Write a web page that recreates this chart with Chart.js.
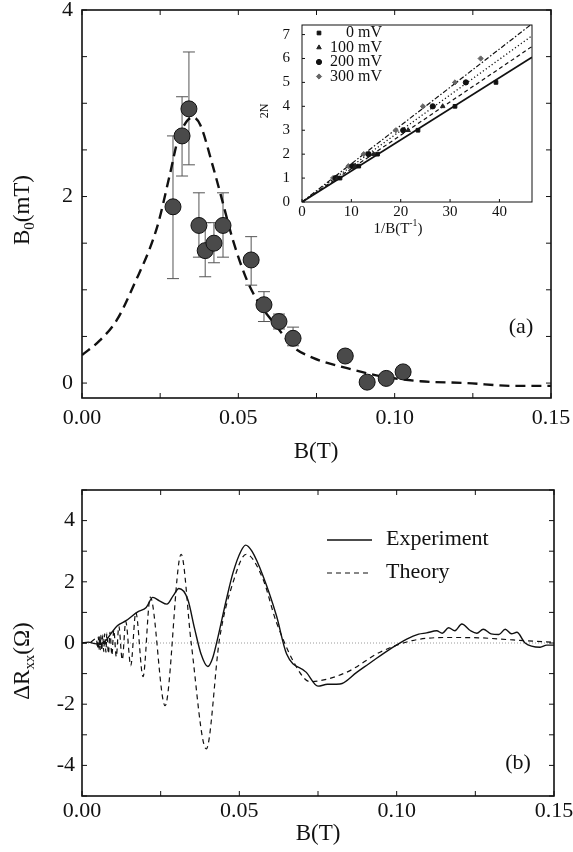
<!DOCTYPE html>
<html>
<head>
<meta charset="utf-8">
<script src="https://cdn.jsdelivr.net/npm/chart.js@4.4.0/dist/chart.umd.min.js"></script>
<style>
  body { margin: 0; background: #fff; width: 573px; height: 852px; position: relative; overflow: hidden; }
  canvas { position: absolute; }
</style>
</head>
<body>
<canvas id="chartA" width="573" height="470" style="left:0;top:0"></canvas>
<canvas id="inset" width="300" height="230" style="left:250px;top:15px"></canvas>
<canvas id="chartB" width="573" height="382" style="left:0;top:470px"></canvas>
<script>
// ---- panel (a): B0 vs B ----
const bA    = [0.0291, 0.0320, 0.0342, 0.0374, 0.0394, 0.0422, 0.0451, 0.0541, 0.0582, 0.0630, 0.0675, 0.0842, 0.0912, 0.0973, 0.1027];
const b0    = [1.89, 2.65, 2.94, 1.69, 1.42, 1.50, 1.69, 1.32, 0.84, 0.66, 0.48, 0.29, 0.01, 0.05, 0.12];
const b0Hi  = [2.65, 3.07, 3.55, 2.04, 1.72, 1.72, 2.04, 1.57, 0.98, 0.74, 0.60, 0.35, 0.01, 0.05, 0.12];
const b0Lo  = [1.12, 2.22, 2.34, 1.35, 1.14, 1.29, 1.35, 1.05, 0.66, 0.58, 0.40, 0.23, 0.01, 0.05, 0.12];
const thAx  = [0, 0.0058, 0.0112, 0.0163, 0.0240, 0.0282, 0.0307, 0.0355, 0.0378, 0.0419, 0.0442, 0.0483, 0.0528, 0.0560, 0.0624, 0.0675, 0.0739, 0.0848, 0.0954, 0.1082, 0.1232, 0.1379, 0.1500];
const thAy  = [0.30, 0.46, 0.68, 1.03, 1.67, 2.25, 2.61, 2.85, 2.77, 2.32, 2.04, 1.53, 1.10, 0.89, 0.60, 0.39, 0.27, 0.16, 0.075, 0.02, 0.0, -0.03, -0.03];
const xTicksA  = [0, 0.025, 0.05, 0.075, 0.10, 0.125, 0.15];
const xLabelsA = ['0.00', '', '0.05', '', '0.10', '', '0.15'];
const yTicksA  = [0, 0.5, 1, 1.5, 2, 2.5, 3, 3.5, 4];
const yLabelsA = ['0', '', '', '', '2', '', '', '', '4'];

// ---- inset: 2N vs 1/B ----
const inv0   = [7.7, 11.5, 15.3, 23.5, 31.0, 39.3];
const n0     = [1, 1.5, 2, 3, 4, 5];
const inv100 = [7.2, 10.8, 14.5, 21.5, 28.5];
const n100   = [1, 1.5, 2, 3, 4];
const inv200 = [6.8, 10.2, 13.5, 20.5, 26.5, 33.2];
const n200   = [1, 1.5, 2, 3, 4, 5];
const inv300 = [6.3, 9.4, 12.5, 19.0, 24.5, 31.0, 36.2];
const n300   = [1, 1.5, 2, 3, 4, 5, 6];
const fitX   = [0, 46.6];
const fit0   = [0, 6.05];
const fit100 = [0, 6.5];
const fit200 = [0, 6.95];
const fit300 = [0, 7.45];
const insetLabels = ['0 mV', '100 mV', '200 mV', '300 mV'];
const xTicksIn = [0, 10, 20, 30, 40];
const yTicksIn = [0, 1, 2, 3, 4, 5, 6, 7];

// ---- panel (b): delta Rxx vs B ----
const expB = [0, 0.002, 0.004, 0.0055, 0.0076, 0.0095, 0.0113, 0.0140, 0.0177, 0.0204, 0.0225, 0.0246, 0.0270, 0.0290, 0.0308, 0.0336, 0.0358, 0.0378, 0.0400, 0.0415, 0.0430, 0.0459, 0.0480, 0.0505, 0.0520, 0.0540, 0.0575, 0.0618, 0.0650, 0.0713, 0.0750, 0.0780, 0.0820, 0.0873, 0.0925, 0.0979, 0.1032, 0.1070, 0.1095, 0.1127, 0.1145, 0.1165, 0.1185, 0.1207, 0.1235, 0.1255, 0.1275, 0.1300, 0.1325, 0.1345, 0.1365, 0.1382, 0.1408, 0.1456, 0.1477, 0.1500];
const expR = [0, 0.03, -0.02, -0.03, 0.08, 0.35, 0.57, 0.73, 1.02, 1.16, 1.49, 1.38, 1.27, 1.55, 1.78, 1.43, 0.46, -0.35, -0.77, -0.50, 0.10, 1.43, 2.30, 3.00, 3.20, 3.00, 2.20, 0.89, -0.35, -0.96, -1.41, -1.35, -1.34, -0.96, -0.58, -0.20, 0.13, 0.29, 0.33, 0.40, 0.32, 0.50, 0.40, 0.62, 0.40, 0.32, 0.45, 0.30, 0.28, 0.45, 0.30, 0.35, 0.0, -0.14, -0.07, -0.07];
const thB = [0, 0.0025, 0.0046, 0.0049, 0.0052, 0.0054, 0.0056, 0.0058, 0.0060, 0.0063, 0.0066, 0.0069, 0.0072, 0.0076, 0.0079, 0.0084, 0.0089, 0.0095, 0.0101, 0.0109, 0.0117, 0.0128, 0.0139, 0.0155, 0.0171, 0.0194, 0.0217, 0.0264, 0.0315, 0.0347, 0.0395, 0.0437, 0.0480, 0.0522, 0.0575, 0.0618, 0.0692, 0.0724, 0.0840, 0.0947, 0.1050, 0.1160, 0.1260, 0.1370, 0.1500];
const thR = [0, 0.02, 0.15, -0.18, 0.20, -0.20, 0.22, -0.22, 0.25, -0.25, 0.27, -0.28, 0.30, -0.30, 0.32, -0.35, 0.36, -0.40, 0.42, -0.45, 0.55, -0.55, 0.70, -0.74, 1.00, -1.10, 1.50, -2.05, 2.90, 0, -3.46, 0.13, 1.98, 2.90, 2.09, 0.67, -0.96, -1.26, -0.96, -0.30, 0.08, 0.18, 0.17, 0.10, 0.02];
const xTicksB  = [0, 0.025, 0.05, 0.075, 0.10, 0.125, 0.15];
const xLabelsB = ['0.00', '', '0.05', '', '0.10', '', '0.15'];
const yTicksB  = [-5, -4, -3, -2, -1, 0, 1, 2, 3, 4, 5];
const yLabelsB = ['', '-4', '', '-2', '', '0', '', '2', '', '4', ''];

const SERIF = '"Liberation Serif", "Times New Roman", serif';
const INK = '#111';
const pts = (xs, ys) => xs.map((x, i) => ({ x: x, y: ys[i] }));

// draws text made of parts, with sub/superscripts
function drawParts(ctx, item) {
  const size = item.size;
  const fontOf = p => ((p.sub || p.sup) ? size * 0.65 : size) + 'px ' + SERIF;
  const parts = item.parts || [{ t: item.text }];
  let total = 0;
  parts.forEach(p => { ctx.font = fontOf(p); p.w = ctx.measureText(p.t).width; total += p.w; });
  ctx.save();
  ctx.translate(item.x, item.y);
  if (item.rot) ctx.rotate(item.rot * Math.PI / 180);
  ctx.textBaseline = 'middle';
  ctx.textAlign = 'left';
  ctx.fillStyle = INK;
  let cx = -total / 2;
  if (item.align === 'right') cx = -total;
  if (item.align === 'left') cx = 0;
  parts.forEach(p => {
    ctx.font = fontOf(p);
    const dy = p.sub ? size * 0.3 : (p.sup ? -size * 0.35 : 0);
    ctx.fillText(p.t, cx, dy);
    cx += p.w;
  });
  ctx.restore();
}

// frame with inward ticks on all sides
const frameTicks = {
  id: 'frameTicks',
  afterDraw(chart, args, opts) {
    const { ctx, chartArea: a, scales: { x, y } } = chart;
    const len = opts.len || 5;
    ctx.save();
    ctx.strokeStyle = INK;
    ctx.lineWidth = opts.width || 1.5;
    ctx.strokeRect(a.left, a.top, a.right - a.left, a.bottom - a.top);
    ctx.lineWidth = 1;
    ctx.beginPath();
    x.ticks.forEach(t => {
      const px = x.getPixelForValue(t.value);
      ctx.moveTo(px, a.bottom); ctx.lineTo(px, a.bottom - len);
      if (opts.mirror) { ctx.moveTo(px, a.top); ctx.lineTo(px, a.top + len); }
    });
    y.ticks.forEach(t => {
      const py = y.getPixelForValue(t.value);
      ctx.moveTo(a.left, py); ctx.lineTo(a.left + len, py);
      if (opts.mirror) { ctx.moveTo(a.right, py); ctx.lineTo(a.right - len, py); }
    });
    ctx.stroke();
    ctx.restore();
  }
};

// free text items (axis titles, panel tags)
const notes = {
  id: 'notes',
  afterDraw(chart, args, opts) {
    (opts.items || []).forEach(it => drawParts(chart.ctx, it));
  }
};

// error bars for panel (a)
const errorBars = {
  id: 'errorBars',
  beforeDatasetsDraw(chart) {
    const { ctx, scales: { x, y } } = chart;
    ctx.save();
    ctx.strokeStyle = '#555';
    ctx.lineWidth = 1;
    ctx.beginPath();
    bA.forEach((b, i) => {
      if (b0Hi[i] === b0Lo[i]) return;
      const px = x.getPixelForValue(b);
      const hi = y.getPixelForValue(b0Hi[i]);
      const lo = y.getPixelForValue(b0Lo[i]);
      ctx.moveTo(px, hi); ctx.lineTo(px, lo);
      ctx.moveTo(px - 6, hi); ctx.lineTo(px + 6, hi);
      ctx.moveTo(px - 6, lo); ctx.lineTo(px + 6, lo);
    });
    ctx.stroke();
    ctx.restore();
  }
};

// dotted zero line for panel (b)
const zeroLine = {
  id: 'zeroLine',
  beforeDatasetsDraw(chart) {
    const { ctx, chartArea: a, scales: { y } } = chart;
    const py = y.getPixelForValue(0);
    ctx.save();
    ctx.strokeStyle = '#9a9a9a';
    ctx.lineWidth = 1;
    ctx.setLineDash([1, 2]);
    ctx.beginPath();
    ctx.moveTo(a.left, py); ctx.lineTo(a.right, py);
    ctx.stroke();
    ctx.restore();
  }
};

// line-sample legend for panel (b)
const lineLegend = {
  id: 'lineLegend',
  afterDraw(chart, args, opts) {
    const ctx = chart.ctx;
    chart.data.datasets.forEach((ds, i) => {
      const yy = opts.ys[i];
      ctx.save();
      ctx.strokeStyle = INK;
      ctx.lineWidth = ds.borderWidth;
      ctx.setLineDash(ds.borderDash || []);
      ctx.beginPath();
      ctx.moveTo(opts.x0, yy); ctx.lineTo(opts.x1, yy);
      ctx.stroke();
      ctx.restore();
      drawParts(ctx, { text: ds.label, x: opts.tx, y: yy - 1, size: opts.size, align: 'left' });
    });
  }
};

// marker legend for the inset
const markerLegend = {
  id: 'markerLegend',
  afterDraw(chart, args, opts) {
    const ctx = chart.ctx;
    chart.data.datasets.filter(d => d.showLine === false).forEach((ds, i) => {
      const yy = opts.y0 + i * opts.dy;
      ctx.save();
      ctx.fillStyle = ds.backgroundColor;
      ctx.strokeStyle = ds.borderColor;
      Chart.helpers.drawPoint(ctx, { pointStyle: ds.pointStyle, radius: ds.pointRadius, rotation: 0, borderWidth: 1 }, opts.mx, yy);
      ctx.restore();
      drawParts(ctx, { text: ds.label, x: opts.tx, y: yy, size: opts.size, align: 'right' });
    });
  }
};

// linear axis with fixed ticks; size forced, label overhang padding removed
function linAxis(min, max, tickVals, tickLabels, dim, size) {
  return {
    type: 'linear', min: min, max: max,
    grid: { display: false, drawTicks: false }, border: { display: false },
    afterBuildTicks: s => { s.ticks = tickVals.map(v => ({ value: v })); },
    afterFit: s => {
      s[dim] = size;
      s.paddingTop = 0; s.paddingBottom = 0; s.paddingLeft = 0; s.paddingRight = 0;
    },
    ticks: {
      autoSkip: false, maxRotation: 0, color: INK,
      font: { family: 'Liberation Serif', size: 22 },
      callback: (v, i) => tickLabels[i]
    }
  };
}

document.addEventListener('DOMContentLoaded', () => {
  Chart.defaults.animation = false;

  // panel (a)
  const xa = linAxis(0, 0.15, xTicksA, xLabelsA, 'height', 72);
  xa.ticks.padding = 7;
  const ya = linAxis(-0.16, 4, yTicksA, yLabelsA, 'width', 82);
  ya.ticks.padding = 9;
  new Chart(document.getElementById('chartA'), {
    type: 'scatter',
    data: {
      datasets: [
        {
          label: 'data', data: pts(bA, b0), showLine: false,
          pointRadius: 8, pointBackgroundColor: '#4a4a4a', pointBorderColor: '#111', pointBorderWidth: 1
        },
        {
          label: 'theory', data: pts(thAx, thAy), showLine: true, pointRadius: 0,
          borderColor: INK, borderWidth: 2.4, borderDash: [10, 6], cubicInterpolationMode: 'monotone'
        }
      ]
    },
    options: {
      responsive: false, devicePixelRatio: 1,
      layout: { padding: { left: 0, top: 10, right: 22, bottom: 0 } },
      scales: { x: xa, y: ya },
      plugins: {
        legend: { display: false }, tooltip: { enabled: false },
        frameTicks: { mirror: true, len: 5, width: 1.6 },
        notes: { items: [
          { text: 'B(T)', x: 316, y: 452, size: 23 },
          { parts: [{ t: 'B' }, { t: '0', sub: 1 }, { t: '(mT)' }], x: 23, y: 210, size: 23, rot: -90 },
          { text: '(a)', x: 521, y: 327, size: 22 }
        ] }
      }
    },
    plugins: [errorBars, frameTicks, notes]
  });

  // inset
  const xi = linAxis(0, 46.6, xTicksIn, xTicksIn.map(String), 'height', 43);
  xi.ticks.font = { family: 'Liberation Serif', size: 15 };
  xi.ticks.padding = 1;
  const yi = linAxis(0, 7.4, yTicksIn, yTicksIn.map(String), 'width', 52);
  yi.ticks.font = { family: 'Liberation Serif', size: 15 };
  yi.ticks.padding = 12;
  const mk = (label, xs, ys, style, color) => ({
    label: label, data: pts(xs, ys), showLine: false, pointStyle: style,
    pointRadius: 2.6, backgroundColor: color, borderColor: color,
    pointBackgroundColor: color, pointBorderColor: color, pointBorderWidth: 1
  });
  const fit = (ys, dash, w) => ({
    label: 'fit', data: pts(fitX, ys), showLine: true, pointRadius: 0,
    borderColor: INK, borderWidth: w, borderDash: dash
  });
  new Chart(document.getElementById('inset'), {
    type: 'scatter',
    data: {
      datasets: [
        mk(insetLabels[0], inv0, n0, 'rect', '#111'),
        mk(insetLabels[1], inv100, n100, 'triangle', '#222'),
        mk(insetLabels[2], inv200, n200, 'circle', '#111'),
        mk(insetLabels[3], inv300, n300, 'rectRot', '#666'),
        fit(fit0, [], 1.8),
        fit(fit100, [4, 3], 1.2),
        fit(fit200, [1.2, 2.4], 1.3),
        fit(fit300, [5, 2, 1.5, 2], 1.2)
      ]
    },
    options: {
      responsive: false, devicePixelRatio: 1,
      layout: { padding: { left: 0, top: 10, right: 18, bottom: 0 } },
      scales: { x: xi, y: yi },
      plugins: {
        legend: { display: false }, tooltip: { enabled: false },
        frameTicks: { mirror: false, len: 3, width: 1 },
        markerLegend: { mx: 69, tx: 132, y0: 18, dy: 14.5, size: 16 },
        notes: { items: [
          { parts: [{ t: '1/B(T' }, { t: '-1', sup: 1 }, { t: ')' }], x: 148, y: 214, size: 15 },
          { text: '2N', x: 15, y: 96, size: 12, rot: -90 }
        ] }
      }
    },
    plugins: [{
      id: 'insetBg',
      beforeDraw(chart) {
        const a = chart.chartArea;
        chart.ctx.save();
        chart.ctx.fillStyle = '#fff';
        chart.ctx.fillRect(a.left, a.top, a.right - a.left, a.bottom - a.top);
        chart.ctx.restore();
      }
    }, frameTicks, markerLegend, notes]
  });

  // panel (b)
  const xb = linAxis(0, 0.15, xTicksB, xLabelsB, 'height', 56);
  xb.ticks.padding = 2;
  const yb = linAxis(-5, 5, yTicksB, yLabelsB, 'width', 82);
  yb.ticks.padding = 7;
  new Chart(document.getElementById('chartB'), {
    type: 'scatter',
    data: {
      datasets: [
        {
          label: 'Experiment', data: pts(expB, expR), showLine: true, pointRadius: 0,
          borderColor: INK, borderWidth: 1.4, cubicInterpolationMode: 'monotone'
        },
        {
          label: 'Theory', data: pts(thB, thR), showLine: true, pointRadius: 0,
          borderColor: INK, borderWidth: 1.2, borderDash: [5, 4], cubicInterpolationMode: 'monotone'
        }
      ]
    },
    options: {
      responsive: false, devicePixelRatio: 1,
      layout: { padding: { left: 0, top: 20, right: 19, bottom: 0 } },
      scales: { x: xb, y: yb },
      plugins: {
        legend: { display: false }, tooltip: { enabled: false },
        frameTicks: { mirror: true, len: 5, width: 1.6 },
        lineLegend: { x0: 327, x1: 372, tx: 386, ys: [70, 103], size: 22 },
        notes: { items: [
          { text: 'B(T)', x: 318, y: 364, size: 23 },
          { parts: [{ t: '\u0394R' }, { t: 'xx', sub: 1 }, { t: '(\u03A9)' }], x: 23, y: 191, size: 23, rot: -90 },
          { text: '(b)', x: 518, y: 293, size: 22 }
        ] }
      }
    },
    plugins: [zeroLine, frameTicks, lineLegend, notes]
  });
});
</script>
</body>
</html>
